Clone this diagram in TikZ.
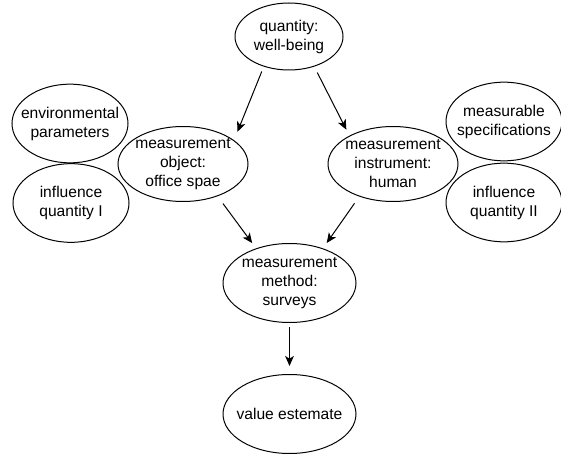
\documentclass[tikz,border=0pt]{standalone}
\usepackage{fontspec}
\setmainfont{Liberation Sans}
\usepackage{tikz}
\usetikzlibrary{arrows.meta, shapes.geometric}

\begin{document}
\begin{tikzpicture}[
      x=0.75pt,
      y=-0.75pt,
      bubble/.style={
         draw,
         shape=ellipse,
         line width=0.75pt,
         inner sep=-6pt,
         align=center,
         font=\fontsize{11.7}{14.25}\selectfont
      },
      side/.style={
         bubble,
         minimum width=87pt,
         minimum height=59pt
      },
      mid/.style={
         bubble,
         minimum width=97.5pt,
         minimum height=56.25pt
      },
      low/.style={
         bubble,
         minimum width=99.75pt,
         minimum height=59.25pt
      },
      flow/.style={
         line width=0.75pt,
         -{Stealth[length=7.5pt, width=6.5pt, inset=2pt]}
      }
   ]
   \useasboundingbox (0,0) rectangle (561,456);

   \node[bubble, minimum width=81pt, minimum height=50.25pt] (qty) at (289,36.5) {quantity:\\well-being};

   \node[side] (env) at (70,123.5) {environmental\\parameters};
   \node[side] (inflA) at (71,203) {influence\\quantity I};
   \node[side] (spec) at (504,121.5) {measurable\\specifications};
   \node[side] (inflB) at (504,202.5) {influence\\quantity II};

   \node[mid] (obj) at (183,164) {measurement\\object:\\office spae};
   \node[mid] (inst) at (393,164) {measurement\\instrument:\\human};

   \node[low] (meth) at (289.5,283) {measurement\\method:\\surveys};
   \node[low] (val) at (289.5,414) {value estemate};

   \draw[flow, shorten <=3.9pt, shorten >=6.8pt] (qty.230) -- (obj.25);
   \draw[flow, shorten <=5pt, shorten >=5pt] (qty.310) -- (inst.147);
   \draw[flow, shorten <=6.8pt, shorten >=4.9pt] (obj.317) -- (meth.134);
   \draw[flow, shorten <=6.2pt, shorten >=4.9pt] (inst.224) -- (meth.46);
   \draw[flow, shorten <=3pt, shorten >=6pt] (meth.south) -- (val.north);
\end{tikzpicture}
\end{document}
